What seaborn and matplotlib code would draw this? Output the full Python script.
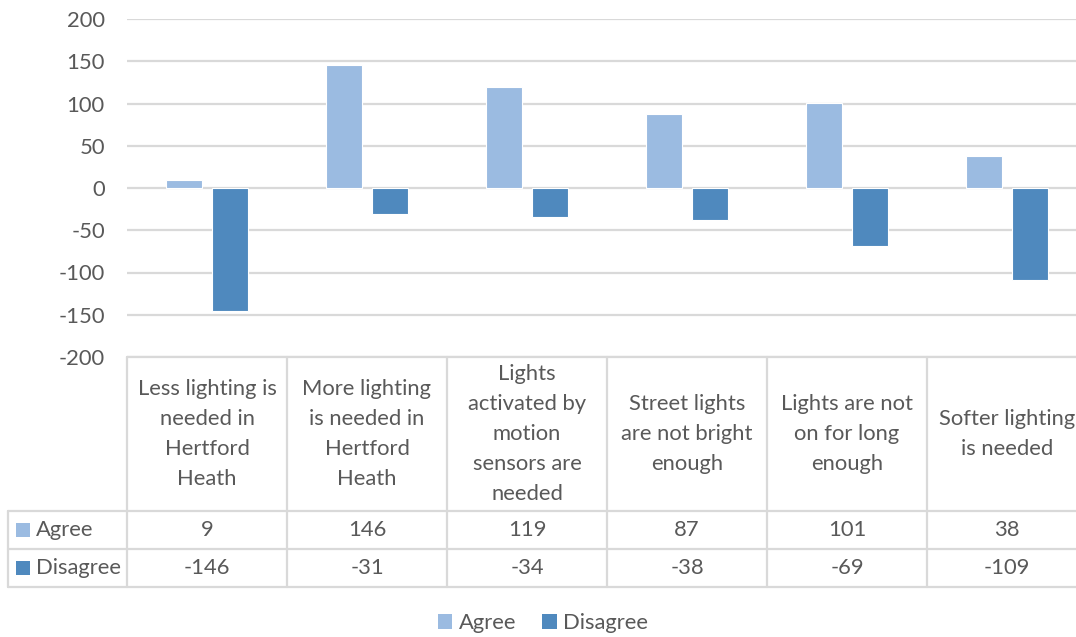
import matplotlib
matplotlib.use("Agg")
import matplotlib.pyplot as plt
import seaborn as sns
import pandas as pd
from matplotlib.patches import Patch

categories = [
    "Less lighting is\nneeded in\nHertford\nHeath",
    "More lighting\nis needed in\nHertford\nHeath",
    "Lights\nactivated by\nmotion\nsensors are\nneeded",
    "Street lights\nare not bright\nenough",
    "Lights are not\non for long\nenough",
    "Softer lighting\nis needed",
]
series = ["Agree", "Disagree"]
agree = [9, 146, 119, 87, 101, 38]
disagree = [-146, -31, -34, -38, -69, -109]
y_ticks = [-200, -150, -100, -50, 0, 50, 100, 150, 200]

colors = {"Agree": "#9BBBE1", "Disagree": "#4F89BE"}
grid_c = "#D9D9D9"
text_c = "#595959"
FONT = "Lato"
FS = 15.8

df = pd.DataFrame({
    "category": categories * 2,
    "series": ["Agree"] * len(categories) + ["Disagree"] * len(categories),
    "value": agree + disagree,
})

sns.set_style("white")
plt.rcParams["font.family"] = [FONT, "DejaVu Sans"]

W, H = 1076, 637
fig = plt.figure(figsize=(W / 100, H / 100), dpi=100)

def fx(px):
    return px / W

def fy(py):
    return 1 - py / H

left_px, right_px = 127, 1087
top_px, bot_px = 19, 357
ax = fig.add_axes([fx(left_px), fy(bot_px), fx(right_px - left_px), (bot_px - top_px) / H])
sns.barplot(data=df, x="category", y="value", hue="series", palette=colors,
            saturation=1, width=0.575, gap=0.22, ax=ax, legend=False,
            edgecolor="white", linewidth=0.8, zorder=3)
ax.set_ylim(-200, 200)
ax.set_xlim(-0.5, len(categories) - 0.5)
ax.set_yticks(y_ticks)
ax.set_yticklabels([str(v) for v in y_ticks])
ax.set_xticks([])
ax.set_xlabel("")
ax.set_ylabel("")
for s in ax.spines.values():
    s.set_visible(False)
ax.grid(axis="y", color=grid_c, linewidth=1.6, zorder=0)
ax.set_axisbelow(True)
ax.tick_params(axis="y", length=0, pad=16, labelsize=FS, labelcolor=text_c)

# Data table below the plot
n = len(categories)
col_w = (right_px - left_px) / n
tab = fig.add_axes([0, 0, 1, 1], facecolor="none")
tab.set_xlim(0, W)
tab.set_ylim(H, 0)
tab.axis("off")

row_hdr_top, row_hdr_bot = 357, 511
row1_bot, row2_bot = 549, 587
tab_left = 8
lw = 1.6
tab.plot([left_px, right_px], [row_hdr_top, row_hdr_top], color=grid_c, lw=lw)
for yy in (row_hdr_bot, row1_bot, row2_bot):
    tab.plot([tab_left, right_px], [yy, yy], color=grid_c, lw=lw)
tab.plot([tab_left, tab_left], [row_hdr_bot, row2_bot], color=grid_c, lw=lw)
for i in range(n + 1):
    xx = left_px + i * col_w
    tab.plot([xx, xx], [row_hdr_top, row2_bot], color=grid_c, lw=lw)

for i, cat in enumerate(categories):
    cx = left_px + (i + 0.5) * col_w
    tab.text(cx, (row_hdr_top + row_hdr_bot) / 2, cat, ha="center", va="center",
             fontsize=FS, color=text_c, linespacing=1.62, multialignment="center")
    tab.text(cx, (row_hdr_bot + row1_bot) / 2, str(agree[i]), ha="center", va="center",
             fontsize=FS, color=text_c)
    tab.text(cx, (row1_bot + row2_bot) / 2, str(disagree[i]), ha="center", va="center",
             fontsize=FS, color=text_c)

for s, yc in zip(series, [(row_hdr_bot + row1_bot) / 2, (row1_bot + row2_bot) / 2]):
    tab.add_patch(plt.Rectangle((16, yc - 7), 14, 14, color=colors[s], lw=0))
    tab.text(36, yc, s, ha="left", va="center", fontsize=FS, color=text_c)

handles = [Patch(facecolor=colors[s], edgecolor="none", label=s) for s in series]
fig.legend(handles=handles, loc="center", bbox_to_anchor=(fx(543), fy(623)), ncol=2,
           frameon=False, fontsize=FS, labelcolor=text_c, handlelength=0.65, handleheight=0.65,
           handletextpad=0.3, columnspacing=1.2)

fig.savefig("out.png", dpi=100)
